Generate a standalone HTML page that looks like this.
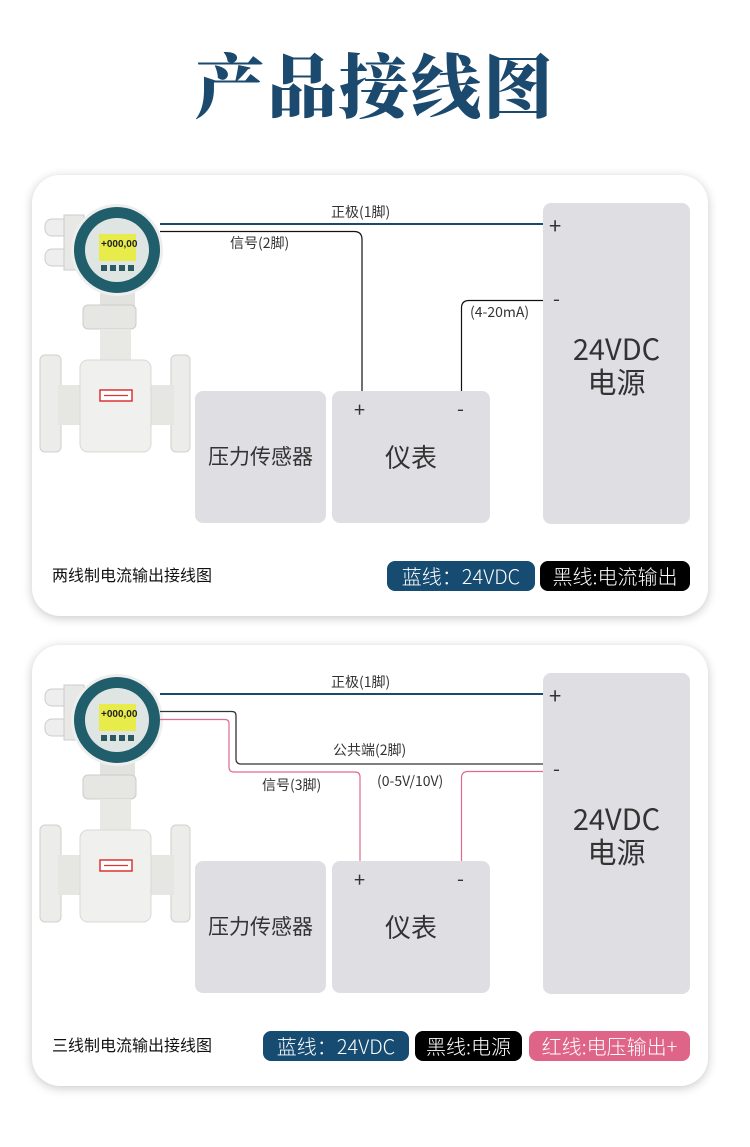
<!DOCTYPE html>
<html><head><meta charset="utf-8"><style>
*{margin:0;padding:0;box-sizing:border-box}
body{width:750px;height:1147px;background:#fff;position:relative;overflow:hidden;font-family:"Liberation Sans","Noto Sans CJK SC",sans-serif;}
.a{position:absolute}
.title{left:0;width:750px;top:38px;text-align:center;font-family:"Noto Serif CJK SC",serif;font-weight:900;font-size:70px;line-height:90px;color:#1b4a6e;letter-spacing:2px}
.card{left:32px;width:676px;height:441px;background:#fff;border-radius:28px;box-shadow:0 2px 10px rgba(0,0,0,0.22)}
.box{background:#dfdee3;border-radius:8px}
.t{font-family:"Noto Sans CJK SC",sans-serif;color:#333;white-space:nowrap;line-height:1}
.badge{height:30px;border-radius:8px;color:#fff;font-family:"Noto Sans CJK SC",sans-serif;font-size:20px;line-height:30px;text-align:center;white-space:nowrap;font-weight:300}
svg{position:absolute;left:0;top:0}
</style></head><body>
<div class="a title">产品接线图</div>

<div class="a card" style="top:175px"></div>
<div class="a card" style="top:645px"></div>

<!-- card1 boxes -->
<div class="a box" style="left:543px;top:203px;width:147px;height:321px"></div>
<div class="a box" style="left:195px;top:391px;width:131px;height:132px"></div>
<div class="a box" style="left:332px;top:391px;width:158px;height:132px"></div>
<!-- card2 boxes -->
<div class="a box" style="left:543px;top:673px;width:147px;height:321px"></div>
<div class="a box" style="left:195px;top:861px;width:131px;height:132px"></div>
<div class="a box" style="left:332px;top:861px;width:158px;height:132px"></div>

<svg width="750" height="1147" viewBox="0 0 750 1147">
<defs>
<g id="dev">
 <rect x="45" y="219" width="26" height="17" rx="7" fill="#eee" stroke="#ccc"/>
 <rect x="45" y="249" width="26" height="17" rx="7" fill="#eee" stroke="#ccc"/>
 <rect x="64" y="215" width="20" height="55" fill="#e8e8e6" stroke="#ccc"/>
 <rect x="100" y="285" width="35" height="25" fill="#e2e3de"/>
 <rect x="83" y="305" width="53" height="24" rx="5" fill="#e6e7e2" stroke="#ccc"/>
 <rect x="100" y="329" width="31" height="35" fill="#e8e9e4"/>
 <rect x="40" y="355" width="21" height="97" rx="5" fill="#ecedea" stroke="#d0d0cc"/>
 <rect x="171" y="355" width="19" height="97" rx="5" fill="#ecedea" stroke="#d0d0cc"/>
 <rect x="58" y="385" width="116" height="40" fill="#e6e7e2"/>
 <rect x="80" y="360" width="71" height="92" rx="8" fill="#f0f1ee" stroke="#d8d8d4"/>
 <rect x="100" y="390" width="32" height="11" fill="#fff" stroke="#d33" stroke-width="1.5"/>
 <line x1="104" y1="395.5" x2="128" y2="395.5" stroke="#d33" stroke-width="1.2"/>
 <circle cx="117" cy="250" r="46" fill="#eee"/>
 <circle cx="117" cy="250" r="43" fill="#1f5e6a"/>
 <circle cx="117" cy="250" r="32" fill="#dfe5e2"/>
 <rect x="99" y="234" width="37" height="27" fill="#e8ec4a"/>
 <text x="101" y="247" font-size="10" font-weight="bold" font-family="Liberation Sans" fill="#222">+000,00</text>
 <rect x="101" y="265" width="6" height="6" fill="#2a5a60"/><rect x="110" y="265" width="6" height="6" fill="#2a5a60"/><rect x="119" y="265" width="6" height="6" fill="#2a5a60"/><rect x="128" y="265" width="6" height="6" fill="#2a5a60"/>
</g>
</defs>
<use href="#dev"/>
<use href="#dev" transform="translate(0,470)"/>

<!-- card1 wires -->
<line x1="160" y1="224" x2="543" y2="224" stroke="#1b4a6e" stroke-width="2"/>
<path d="M160 231.5 H354 Q362 231.5 362 239.5 V391" fill="none" stroke="#111" stroke-width="1.2"/>
<path d="M461.5 391 V308 Q461.5 300.5 469 300.5 H543" fill="none" stroke="#111" stroke-width="1.2"/>

<!-- card2 wires -->
<line x1="160" y1="694" x2="543" y2="694" stroke="#1b4a6e" stroke-width="2"/>
<path d="M160 711.5 H232 Q236 711.5 236 715.5 V759 Q236 764 241 764 H543" fill="none" stroke="#333" stroke-width="1.3"/>
<path d="M160 719.5 H225 Q229 719.5 229 723.5 V767 Q229 772 234 772 H355 Q360 772 360 777 V861" fill="none" stroke="#e06a8e" stroke-width="1.2"/>
<path d="M461.5 861 V778 Q461.5 771.5 468 771.5 H543" fill="none" stroke="#e06a8e" stroke-width="1.2"/>
</svg>

<!-- card1 text -->
<div class="a t" style="left:331px;top:205px;font-size:14px">正极(1脚)</div>
<div class="a t" style="left:230px;top:236px;font-size:14px">信号(2脚)</div>
<div class="a t" style="left:470px;top:305px;font-size:14px">(4-20mA)</div>
<div class="a t" style="left:549px;top:214px;font-size:22px">+</div>
<div class="a t" style="left:553px;top:288px;font-size:20px">-</div>
<div class="a t" style="left:543px;top:332px;width:147px;text-align:center;font-size:29px;line-height:33px;color:#333">24VDC<br>电源</div>
<div class="a t" style="left:195px;top:446px;width:131px;text-align:center;font-size:21px">压力传感器</div>
<div class="a t" style="left:332px;top:444px;width:158px;text-align:center;font-size:26px">仪表</div>
<div class="a t" style="left:354px;top:399px;font-size:20px">+</div>
<div class="a t" style="left:457px;top:398px;font-size:20px">-</div>
<div class="a t" style="left:52px;top:566px;font-size:16px;color:#111">两线制电流输出接线图</div>
<div class="a badge" style="left:387px;top:561px;width:148px;background:#164b72">蓝线：24VDC</div>
<div class="a badge" style="left:540px;top:561px;width:150px;background:#000">黑线:电流输出</div>

<!-- card2 text -->
<div class="a t" style="left:331px;top:675px;font-size:14px">正极(1脚)</div>
<div class="a t" style="left:333px;top:743px;font-size:14px">公共端(2脚)</div>
<div class="a t" style="left:262px;top:778px;font-size:14px">信号(3脚)</div>
<div class="a t" style="left:377px;top:774px;font-size:14px">(0-5V/10V)</div>
<div class="a t" style="left:549px;top:684px;font-size:22px">+</div>
<div class="a t" style="left:553px;top:758px;font-size:20px">-</div>
<div class="a t" style="left:543px;top:802px;width:147px;text-align:center;font-size:29px;line-height:33px;color:#333">24VDC<br>电源</div>
<div class="a t" style="left:195px;top:916px;width:131px;text-align:center;font-size:21px">压力传感器</div>
<div class="a t" style="left:332px;top:914px;width:158px;text-align:center;font-size:26px">仪表</div>
<div class="a t" style="left:354px;top:869px;font-size:20px">+</div>
<div class="a t" style="left:457px;top:868px;font-size:20px">-</div>
<div class="a t" style="left:52px;top:1036px;font-size:16px;color:#111">三线制电流输出接线图</div>
<div class="a badge" style="left:263px;top:1031px;width:146px;background:#164b72">蓝线：24VDC</div>
<div class="a badge" style="left:415px;top:1031px;width:107px;background:#000">黑线:电源</div>
<div class="a badge" style="left:529px;top:1031px;width:161px;background:#de6588">红线:电压输出+</div>
</body></html>
